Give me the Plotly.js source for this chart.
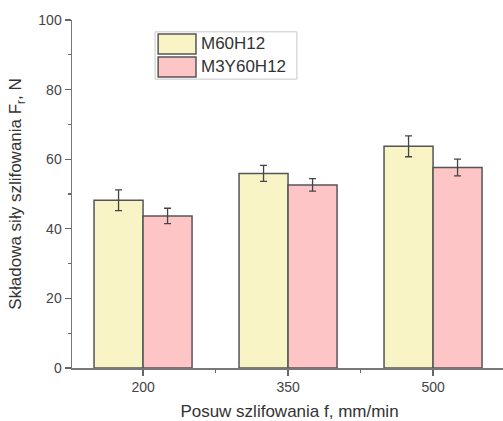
<!DOCTYPE html>
<html>
<head>
<meta charset="utf-8">
<script src="https://cdn.plot.ly/plotly-3.0.1.min.js"></script>
<style>html,body{margin:0;padding:0;overflow:hidden;background:#fff}</style>
</head>
<body>
<div id="chart" style="width:507px;height:421px"></div>
<script>
const categories = ["200", "350", "500"];
const seriesNames = ["M60H12", "M3Y60H12"];
const m60h12 = [48.2, 55.9, 63.7];
const m60h12Err = [3.0, 2.3, 3.0];
const m3y60h12 = [43.7, 52.6, 57.6];
const m3y60h12Err = [2.2, 1.8, 2.4];
const seriesColors = ["#f8f4c6", "#fdc5c6"];
const yTicks = [0, 20, 40, 60, 80, 100];

const xIdx = categories.map((c, i) => i);
const outline = {color: "#555555", width: 1.5};
const errStyle = {type: "data", visible: true, color: "#444444", thickness: 1.3, width: 3.5};

const traces = [
  {type: "bar", name: seriesNames[0], x: xIdx, y: m60h12,
   error_y: Object.assign({array: m60h12Err}, errStyle),
   marker: {color: seriesColors[0], line: outline}},
  {type: "bar", name: seriesNames[1], x: xIdx, y: m3y60h12,
   error_y: Object.assign({array: m3y60h12Err}, errStyle),
   marker: {color: seriesColors[1], line: outline}}
];

// custom legend (boxes + labels) in paper coordinates
const legX0 = 0.191, legX1 = 0.517, legY0 = 0.830, legY1 = 0.966;
const swX0 = 0.198, swX1 = 0.285;
const rows = [[0.9023, 0.9598], [0.8362, 0.8937]];
const shapes = [{type: "rect", xref: "paper", yref: "paper", x0: legX0, x1: legX1, y0: legY0, y1: legY1,
  line: {color: "#c8c8c8", width: 1}, fillcolor: "#ffffff", layer: "above"}];
const annotations = [];
rows.forEach((r, i) => {
  shapes.push({type: "rect", xref: "paper", yref: "paper", x0: swX0, x1: swX1, y0: r[0], y1: r[1],
    line: {color: "#555555", width: 1.5}, fillcolor: seriesColors[i], layer: "above"});
  annotations.push({xref: "paper", yref: "paper", x: 0.292, y: (r[0] + r[1]) / 2, xanchor: "left", yanchor: "middle",
    text: seriesNames[i], showarrow: false, font: {family: "Liberation Sans, Arial", size: 17, color: "#333333"}});
});

const layout = {
  width: 507, height: 421,
  margin: {l: 72, r: 0, t: 20, b: 53},
  paper_bgcolor: "#ffffff", plot_bgcolor: "#ffffff",
  font: {family: "Liberation Sans, Arial", color: "#444444"},
  barmode: "group", bargap: 0.324, bargroupgap: 0,
  showlegend: false,
  xaxis: {
    type: "linear", range: [-0.49, 2.51],
    tickmode: "array", tickvals: xIdx, ticktext: categories,
    ticks: "outside", ticklen: 6, tickwidth: 1.3, tickcolor: "#666666",
    showline: true, linecolor: "#777777", linewidth: 1.5,
    showgrid: false, zeroline: false,
    tickfont: {size: 14, color: "#444444"},
    minor: {tickmode: "array", tickvals: [0.5, 1.5], ticks: "outside", ticklen: 3, tickwidth: 1.3, tickcolor: "#666666"},
    title: {text: "Posuw szlifowania f, mm/min", font: {size: 17, color: "#333333"}, standoff: 13}
  },
  yaxis: {
    range: [0, 100], tickmode: "array", tickvals: yTicks,
    ticks: "outside", ticklen: 6, tickwidth: 1.3, tickcolor: "#666666",
    showline: true, linecolor: "#777777", linewidth: 1.5,
    showgrid: false, zeroline: false,
    tickfont: {size: 14, color: "#444444"},
    minor: {dtick: 10, tick0: 10, ticks: "outside", ticklen: 3, tickwidth: 1.3, tickcolor: "#666666"},
    title: {text: "Składowa siły szlifowania F<sub>r</sub>, N", font: {size: 17, color: "#333333"}, standoff: 12}
  },
  shapes: shapes,
  annotations: annotations
};

Plotly.newPlot("chart", traces, layout, {displayModeBar: false, staticPlot: true});
</script>
</body>
</html>
